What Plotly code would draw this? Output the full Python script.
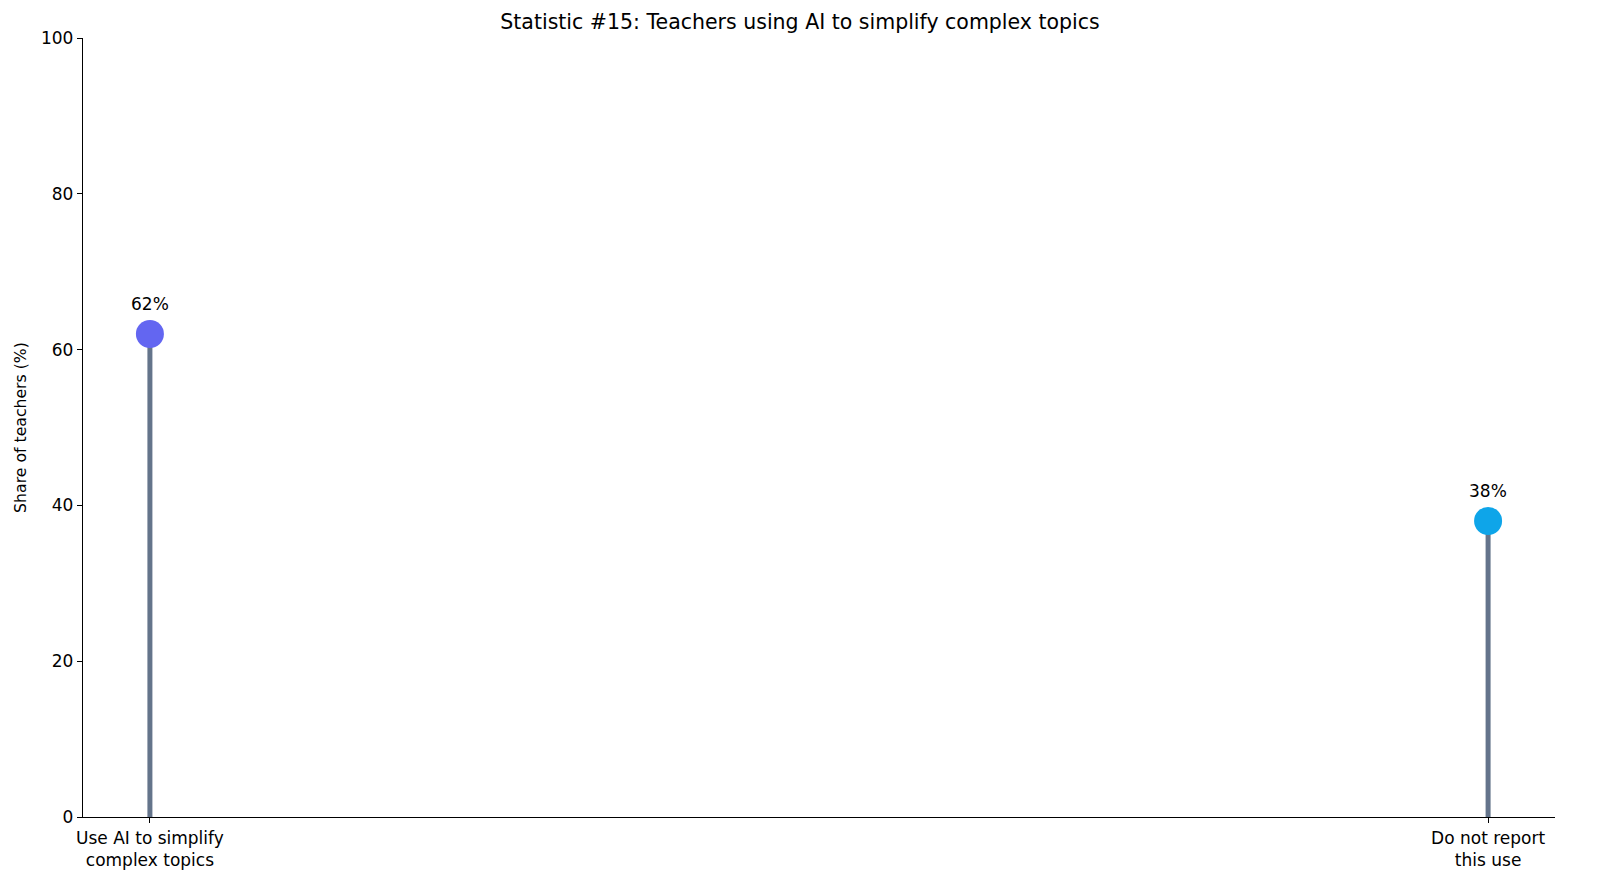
import plotly.graph_objects as go

categories = ["Use AI to simplify<br>complex topics", "Do not report<br>this use"]
shares = [62, 38]
labels = ["62%", "38%"]
marker_colors = ["#6366F1", "#0EA5E9"]

STEM = "#64748B"
FONT = "DejaVu Sans, Arial, sans-serif"

fig = go.Figure()

# stems
stem_x, stem_y = [], []
for c, v in zip(categories, shares):
    stem_x += [c, c, None]
    stem_y += [0, v, None]
fig.add_trace(go.Scatter(x=stem_x, y=stem_y, mode="lines",
                         line=dict(color=STEM, width=5), hoverinfo="skip",
                         showlegend=False))

# heads
fig.add_trace(go.Scatter(x=categories, y=shares, mode="markers",
                         marker=dict(size=28, color=marker_colors),
                         showlegend=False))

for c, v, t in zip(categories, shares, labels):
    fig.add_annotation(x=c, y=v, text=t, showarrow=False, yshift=30,
                       font=dict(size=17, color="black", family=FONT))

# page body has an 8px margin, so size the figure to fit inside it
fig.update_layout(
    width=1584, height=880,
    paper_bgcolor="white", plot_bgcolor="white",
    margin=dict(l=72, r=37, t=30, b=71),
    font=dict(family=FONT, size=17, color="black"),
    title=dict(text="Statistic #15: Teachers using AI to simplify complex topics",
               x=0.5, xanchor="center", y=1 - 14 / 880, yanchor="middle",
               font=dict(size=20.5, color="black")),
)
fig.update_xaxes(type="category", range=[-0.05, 1.05], showline=True,
                 linecolor="black", linewidth=1.3, ticks="outside", ticklen=5,
                 tickcolor="black", showgrid=False, zeroline=False,
                 tickfont=dict(size=17))
fig.update_yaxes(range=[0, 100], tickvals=[0, 20, 40, 60, 80, 100],
                 showline=True, linecolor="black", linewidth=1.3,
                 ticks="outside", ticklen=5, tickcolor="black",
                 showgrid=False, zeroline=False, tickfont=dict(size=17),
                 title=dict(text="Share of teachers (%)", standoff=10,
                            font=dict(size=15.7)))

fig.write_html("out.html")
